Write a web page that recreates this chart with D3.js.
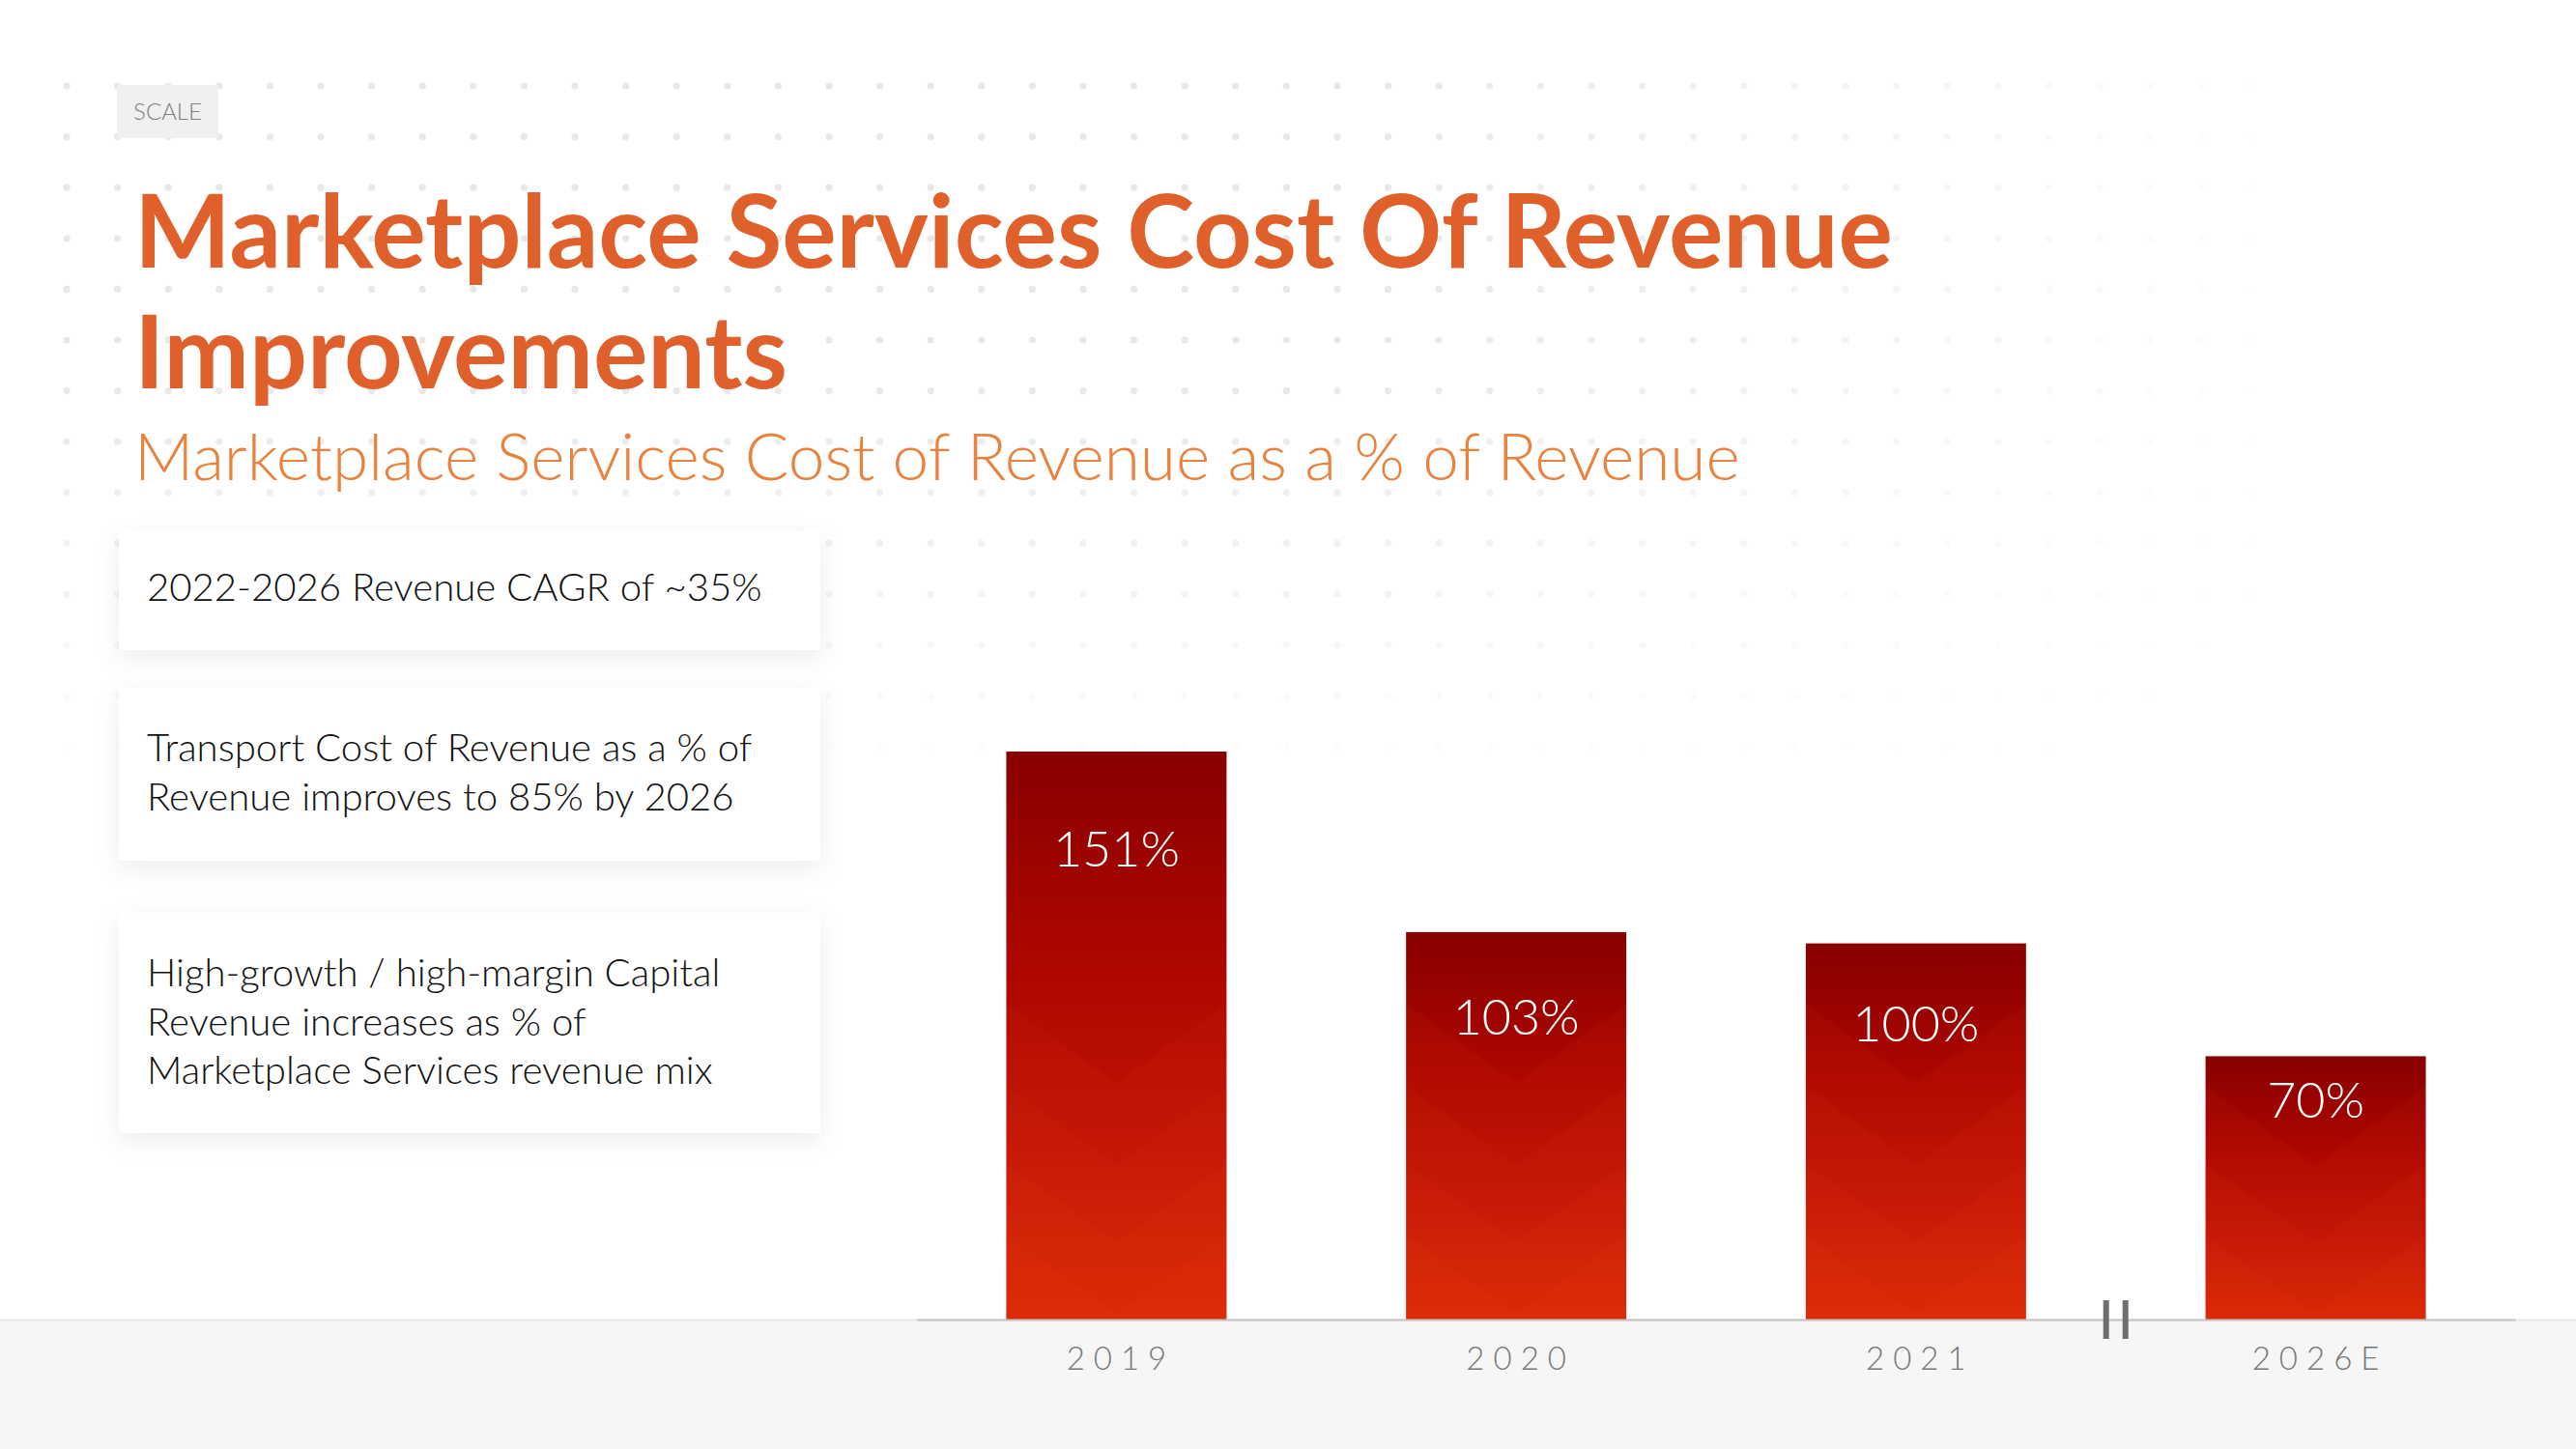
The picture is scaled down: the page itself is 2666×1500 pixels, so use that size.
<!DOCTYPE html>
<html>
<head>
<meta charset="utf-8">
<script src="https://cdn.jsdelivr.net/npm/d3@7"></script>
<style>
  html, body { margin: 0; padding: 0; background: #ffffff; }
  svg { display: block; }
  text { font-family: "Lato", "Open Sans", sans-serif; }
</style>
</head>
<body>
<svg id="chart" width="2666" height="1500"></svg>
<script>
// ---------------- data ----------------
const categories = ["2019", "2020", "2021", "2026E"];
const values = [151, 103, 100, 70];
const valueLabels = ["151%", "103%", "100%", "70%"];
const tagText = "SCALE";
const titleLines = ["Marketplace Services Cost Of Revenue", "Improvements"];
const subtitleText = "Marketplace Services Cost of Revenue as a % of Revenue";
const note1 = ["2022-2026 Revenue CAGR of ~35%"];
const note2 = ["Transport Cost of Revenue as a % of", "Revenue improves to 85% by 2026"];
const note3 = ["High-growth / high-margin Capital", "Revenue increases as % of", "Marketplace Services revenue mix"];
const notes = [note1, note2, note3];

// ---------------- setup ----------------
const W = 2666, H = 1500;
const svg = d3.select("#chart");
const defs = svg.append("defs");

svg.append("rect").attr("width", W).attr("height", H).attr("fill", "#ffffff");

// dot grid (fading to right / bottom)
const dotG = svg.append("g");
const dx0 = 69, dy0 = 89, step = 52.6;
for (let j = 0; j < 16; j++) {
  for (let i = 0; i < 48; i++) {
    const cx = dx0 + i * step, cy = dy0 + j * step;
    const fx = Math.max(0, 1 - Math.max(0, cx - 1400) / 1000);
    const fy = Math.max(0, 1 - Math.max(0, cy - 380) / 450);
    const op = fx * fy;
    if (op <= 0.03) continue;
    dotG.append("circle").attr("cx", cx).attr("cy", cy).attr("r", 3.6)
      .attr("fill", "#e8e8e8").attr("opacity", op);
  }
}

// bottom band
svg.append("rect").attr("x", 0).attr("y", 1366).attr("width", W).attr("height", H - 1366)
  .attr("fill", "#f6f6f6");
svg.append("line").attr("x1", 0).attr("x2", W).attr("y1", 1366.5).attr("y2", 1366.5)
  .attr("stroke", "#e6e6e6").attr("stroke-width", 2);

// ---------------- header ----------------
svg.append("rect").attr("x", 121).attr("y", 88).attr("width", 105).attr("height", 55)
  .attr("fill", "#f0f0f0");
svg.append("text").attr("x", 173.5).attr("y", 124).attr("text-anchor", "middle")
  .attr("font-size", 24).attr("font-weight", 300).attr("fill", "#7d7d7d")
  .text(tagText);

function fit(sel, target) {
  const w = sel.node().getComputedTextLength();
  const fs = parseFloat(sel.attr("font-size"));
  const nf = fs * target / w;
  sel.attr("font-size", nf);
  return nf;
}

const t1 = svg.append("text").attr("x", 139).attr("y", 277)
  .attr("font-size", 100).attr("font-weight", 700).attr("fill", "#e0602b")
  .text(titleLines[0]);
const tfs = fit(t1, 1820);
svg.append("text").attr("x", 139).attr("y", 402)
  .attr("font-size", tfs).attr("font-weight", 700).attr("fill", "#e0602b")
  .text(titleLines[1]);

const st = svg.append("text").attr("x", 139).attr("y", 497)
  .attr("font-size", 66).attr("font-weight", 300).attr("fill", "#e8823c")
  .text(subtitleText);
fit(st, 1662);

// ---------------- note boxes ----------------
const shadow = defs.append("filter").attr("id", "shadow")
  .attr("x", "-20%").attr("y", "-40%").attr("width", "140%").attr("height", "180%");
shadow.append("feDropShadow").attr("dx", 0).attr("dy", 8).attr("stdDeviation", 12)
  .attr("flood-color", "#000").attr("flood-opacity", 0.07);

const boxTops = [549, 712, 945];
const boxHeights = [124, 179, 228];
const firstBaselines = [622, 788, 1021];
notes.forEach((lines, k) => {
  svg.append("rect").attr("x", 123).attr("y", boxTops[k]).attr("width", 726)
    .attr("height", boxHeights[k]).attr("fill", "#ffffff").attr("filter", "url(#shadow)");
});
const probe = svg.append("text").attr("x", 152).attr("y", -100)
  .attr("font-size", 38).attr("font-weight", 300).text(note1[0]);
const noteFs = fit(probe, 637);
probe.remove();
notes.forEach((lines, k) => {
  const t = svg.append("text").attr("x", 152).attr("y", firstBaselines[k])
    .attr("font-size", noteFs).attr("font-weight", 300).attr("fill", "#111111");
  lines.forEach((ln, i) => {
    t.append("tspan").attr("x", 152).attr("dy", i === 0 ? 0 : 50.5).text(ln);
  });
});

// ---------------- chart ----------------
const x = d3.scaleBand().domain(categories).range([949, 2603])
  .paddingInner(0.449).paddingOuter(0.2235);
const y = d3.scaleLinear().domain([0, 160]).range([1366, 1366 - 3.894 * 160]);

const grad = defs.append("linearGradient").attr("id", "barGrad")
  .attr("x1", 0).attr("y1", 0).attr("x2", 0).attr("y2", 1);
grad.append("stop").attr("offset", "0%").attr("stop-color", "#880000");
grad.append("stop").attr("offset", "35%").attr("stop-color", "#ac0600");
grad.append("stop").attr("offset", "70%").attr("stop-color", "#c21305");
grad.append("stop").attr("offset", "100%").attr("stop-color", "#d62304");

const data = categories.map((c, i) => ({ c, v: values[i], l: valueLabels[i] }));

const bars = svg.append("g").selectAll("g").data(data).join("g");
bars.each(function (d, i) {
  const g = d3.select(this);
  const bx = x(d.c), bw = x.bandwidth(), top = y(d.v), bot = y(0), h = bot - top;
  const cid = "clip" + i;
  defs.append("clipPath").attr("id", cid).append("rect")
    .attr("x", bx).attr("y", top).attr("width", bw).attr("height", h);
  g.append("rect").attr("x", bx).attr("y", top).attr("width", bw).attr("height", h)
    .attr("fill", "url(#barGrad)");
  const cg = g.append("g").attr("clip-path", `url(#${cid})`);
  const slope = 0.72;
  [6, 80, 160, 245].forEach(off => {
    if (off > h * 0.72) return;
    const ay = bot - off, cx = bx + bw / 2, sy = ay - slope * bw / 2;
    cg.append("path")
      .attr("d", `M${bx},${sy} L${cx},${ay} L${bx + bw},${sy} L${bx + bw},${bot + 40} L${bx},${bot + 40} Z`)
      .attr("fill", "#ff5a2a").attr("opacity", 0.06);
  });
  const off = Math.min(119, 63 + (h - 272) * 0.33);
  g.append("text").attr("x", bx + bw / 2).attr("y", top + off)
    .attr("text-anchor", "middle").attr("font-size", 52).attr("font-weight", 300)
    .attr("fill", "#ffffff").text(d.l);
});

// axis
const axisG = svg.append("g").attr("transform", "translate(0,1366)")
  .call(d3.axisBottom(x).tickSize(0).tickSizeOuter(0).tickPadding(52));
axisG.select(".domain").attr("stroke", "#c4c4c4").attr("stroke-width", 2);
axisG.selectAll(".tick text")
  .attr("font-family", "Lato, 'Open Sans', sans-serif")
  .attr("font-size", 33).attr("font-weight", 300).attr("fill", "#777777")
  .style("letter-spacing", "9px").attr("dx", 4.5).attr("dy", 0);

// axis break marks between 2021 and 2026E
const bxm = (x("2021") + x.bandwidth() + x("2026E")) / 2;
[-10, 10].forEach(o => {
  svg.append("line").attr("x1", bxm + o).attr("x2", bxm + o)
    .attr("y1", 1346).attr("y2", 1386).attr("stroke", "#6e6e6e").attr("stroke-width", 6);
});
</script>
</body>
</html>
